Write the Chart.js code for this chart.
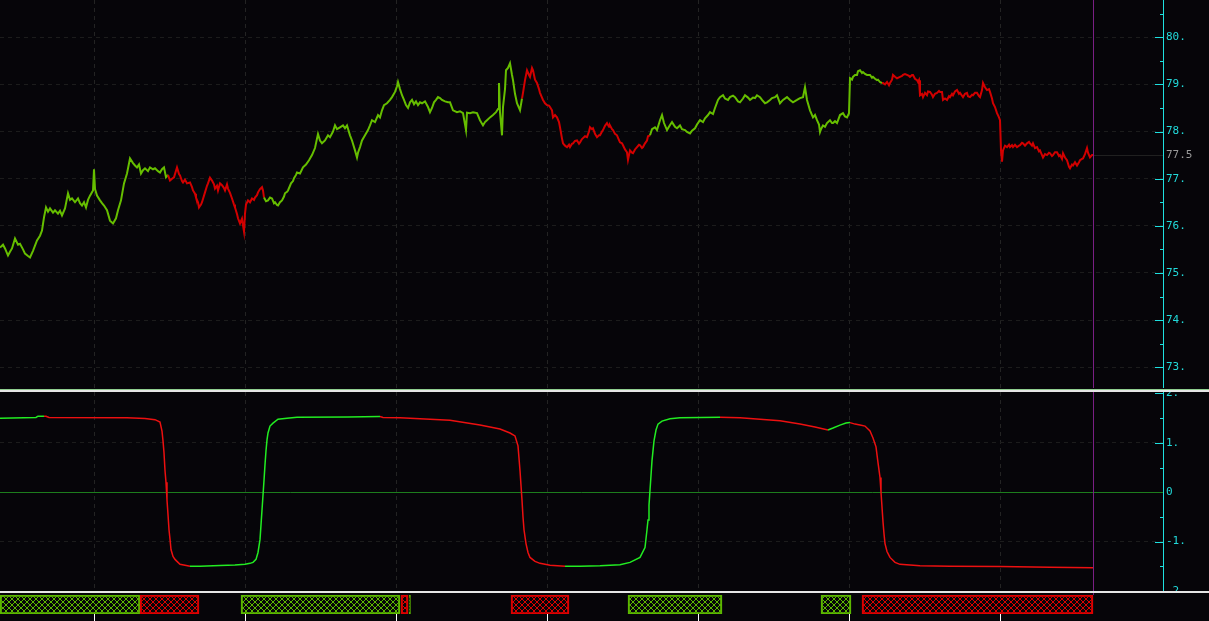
<!DOCTYPE html>
<html>
<head>
<meta charset="utf-8">
<style>
  html, body { margin: 0; padding: 0; background: #060509; overflow: hidden; }
  #wrap { position: relative; width: 1209px; height: 621px; }
  canvas { position: absolute; left: 0; }
  .sep { position: absolute; left: 0; width: 1209px; }
</style>
</head>
<body>
<div id="wrap">
  <canvas id="price" width="1209" height="388" style="top:0"></canvas>
  <canvas id="osc" width="1209" height="199" style="top:392px"></canvas>
  <canvas id="band" width="1209" height="28" style="top:593px"></canvas>
  <div class="sep" style="top:389px;height:1px;background:#8fce8f"></div>
  <div class="sep" style="top:390px;height:2px;background:#e6e6e6"></div>
  <div class="sep" style="top:591px;height:2px;background:#e6e6e6"></div>
</div>

<script src="https://cdn.jsdelivr.net/npm/chart.js"></script>

<script>
  // time axis is in bars; 151 bars per session
  const timeMax = 1163;
  const cursorTime = 1093;
  const sessionLines = [94.5, 245.5, 396.5, 547.5, 698.5, 849.5, 1000.5];

  const priceTicks = [73, 73.5, 74, 74.5, 75, 75.5, 76, 76.5, 77, 77.5, 78, 78.5, 79, 79.5, 80, 80.5];
  const oscTicks = [-2, -1.5, -1, -0.5, 0, 0.5, 1, 1.5, 2];
  const lastPrice = 77.5;

  // [bar, price]
  const pricePath = [
    [0,75.54],[3,75.60],[5,75.52],[8,75.37],[10,75.45],[12,75.52],[15,75.73],[18,75.60],[20,75.62],[23,75.50],
    [25,75.41],[28,75.36],[30,75.33],[33,75.47],[35,75.58],[37,75.69],[40,75.79],[42,75.90],[44,76.18],[46,76.39],
    [48,76.30],[50,76.37],[53,76.28],[55,76.33],[58,76.26],[60,76.32],[62,76.22],[65,76.37],[68,76.69],[70,76.55],
    [72,76.58],[75,76.50],[78,76.58],[80,76.48],[82,76.43],[84,76.50],[86,76.39],[88,76.55],[90,76.64],[93,76.75],
    [94,77.20],[95,76.78],[97,76.64],[100,76.54],[102,76.48],[104,76.43],[107,76.33],[110,76.11],[113,76.05],[116,76.16],
    [118,76.33],[121,76.54],[124,76.90],[127,77.11],[130,77.43],[133,77.33],[135,77.28],[137,77.24],[139,77.30],[141,77.11],
    [143,77.18],[145,77.22],[148,77.16],[150,77.24],[153,77.20],[155,77.22],[158,77.16],[160,77.13],[162,77.20],[164,77.24],
    [166,77.03],[168,77.08],[170,76.96],[172,77.00],[174,77.03],[177,77.24],[179,77.10],[180,77.07],[182,76.95],[183,76.92],
    [185,76.98],[187,76.90],[190,76.92],[192,76.82],[193,76.75],[195,76.68],[196,76.60],[198,76.50],[199,76.39],[201,76.45],
    [202,76.50],[205,76.71],[207,76.85],[208,76.90],[210,77.02],[212,76.96],[214,76.88],[215,76.79],[217,76.85],[218,76.75],
    [220,76.90],[222,76.86],[224,76.80],[225,76.75],[227,76.88],[228,76.79],[230,76.70],[232,76.58],[234,76.45],[235,76.39],
    [237,76.25],[238,76.16],[240,76.05],[242,76.15],[243,76.01],[244,75.88],[245,76.26],[246,76.45],[248,76.54],[250,76.50],
    [252,76.58],[254,76.55],[255,76.60],[257,76.65],[258,76.71],[260,76.78],[262,76.82],[263,76.75],[264,76.60],[266,76.52],
    [268,76.54],[270,76.60],[272,76.58],[274,76.48],[275,76.50],[277,76.44],[278,76.43],[280,76.50],[282,76.54],[284,76.62],
    [285,76.69],[287,76.72],[288,76.75],[290,76.85],[291,76.90],[293,76.95],[294,77.01],[296,77.08],[297,77.13],[300,77.11],
    [303,77.24],[306,77.30],[309,77.39],[312,77.50],[315,77.65],[318,77.95],[320,77.81],[322,77.75],[325,77.81],[328,77.92],
    [330,77.88],[333,78.00],[335,78.13],[337,78.05],[340,78.09],[343,78.13],[345,78.07],[347,78.13],[350,77.92],[352,77.81],
    [355,77.60],[357,77.45],[358,77.55],[360,77.67],[362,77.81],[365,77.92],[368,78.03],[370,78.13],[372,78.24],[375,78.20],
    [378,78.35],[380,78.30],[382,78.45],[384,78.56],[387,78.60],[390,78.67],[392,78.73],[395,78.84],[397,78.96],[398,79.05],
    [400,78.90],[402,78.77],[404,78.67],[406,78.56],[408,78.50],[410,78.62],[412,78.67],[414,78.58],[416,78.64],[418,78.56],
    [420,78.62],[422,78.60],[425,78.64],[428,78.52],[430,78.41],[432,78.50],[434,78.62],[436,78.67],[438,78.73],[440,78.71],
    [442,78.67],[445,78.64],[448,78.62],[450,78.62],[453,78.45],[457,78.41],[460,78.43],[463,78.39],[466,78.03],[467,78.40],
    [470,78.39],[473,78.41],[477,78.39],[480,78.24],[483,78.13],[485,78.20],[487,78.24],[490,78.30],[493,78.35],[496,78.41],
    [498,78.48],[499,79.03],[500,78.41],[502,77.92],[503,78.52],[505,78.90],[506,79.30],[508,79.35],[510,79.45],[512,79.20],
    [513,79.09],[515,78.80],[517,78.60],[519,78.50],[520,78.45],[522,78.70],[523,78.82],[525,79.09],[527,79.30],[529,79.20],
    [530,79.16],[532,79.35],[533,79.30],[535,79.10],[537,79.03],[539,78.90],[540,78.82],[542,78.72],[543,78.67],[545,78.60],
    [547,78.56],[549,78.55],[550,78.52],[552,78.45],[553,78.30],[555,78.35],[557,78.30],[559,78.20],[560,78.09],[562,77.85],
    [563,77.75],[565,77.70],[567,77.67],[569,77.72],[570,77.67],[572,77.74],[573,77.75],[575,77.80],[577,77.81],[579,77.74],
    [580,77.77],[582,77.84],[583,77.86],[585,77.90],[587,77.88],[589,78.00],[590,78.09],[592,78.05],[593,78.07],[595,77.95],
    [597,77.88],[599,77.92],[600,77.92],[602,78.00],[603,78.03],[605,78.12],[607,78.18],[609,78.10],[610,78.13],[612,78.05],
    [613,78.03],[615,77.95],[617,77.92],[619,77.82],[620,77.77],[622,77.75],[623,77.71],[625,77.62],[627,77.56],[628,77.40],
    [630,77.60],[632,77.55],[633,77.54],[635,77.62],[637,77.67],[639,77.72],[640,77.71],[642,77.65],[643,77.67],[645,77.75],
    [647,77.81],[648,77.90],[650,77.92],[652,78.05],[655,78.09],[657,78.03],[660,78.24],[662,78.35],[664,78.18],[667,78.03],
    [670,78.14],[672,78.20],[675,78.10],[677,78.07],[680,78.13],[682,78.05],[685,78.03],[687,77.99],[690,77.96],[692,78.02],
    [695,78.07],[697,78.15],[700,78.24],[703,78.20],[705,78.28],[708,78.35],[710,78.41],[713,78.37],[715,78.50],[718,78.67],
    [720,78.73],[723,78.77],[725,78.70],[728,78.67],[730,78.73],[733,78.76],[735,78.73],[738,78.64],[740,78.62],[743,78.70],
    [745,78.77],[748,78.72],[750,78.67],[753,78.72],[755,78.71],[757,78.77],[760,78.73],[762,78.67],[765,78.60],[767,78.62],
    [770,78.67],[772,78.71],[775,78.73],[777,78.77],[780,78.60],[783,78.67],[787,78.73],[790,78.67],[793,78.62],[797,78.67],
    [800,78.71],[803,78.73],[805,78.94],[807,78.67],[810,78.45],[813,78.30],[815,78.35],[817,78.24],[819,78.15],[820,77.99],
    [821,78.05],[823,78.13],[825,78.10],[827,78.18],[830,78.24],[832,78.18],[833,78.18],[835,78.22],[837,78.18],[840,78.35],
    [843,78.39],[845,78.32],[847,78.30],[849,78.39],[850,79.13],[852,79.10],[853,79.16],[855,79.20],[857,79.20],[858,79.28],
    [860,79.30],[862,79.24],[863,79.26],[865,79.22],[867,79.20],[870,79.20],[872,79.14],[873,79.16],[875,79.12],[877,79.09],
    [878,79.10],[880,79.05],[882,79.03],[883,79.03],[885,79.00],[887,79.05],[889,78.98],[890,79.03],[892,79.10],[893,79.20],
    [895,79.16],[897,79.13],[899,79.15],[900,79.16],[902,79.18],[903,79.20],[905,79.22],[907,79.20],[909,79.18],[910,79.16],
    [912,79.20],[913,79.20],[915,79.12],[917,79.09],[918,79.05],[919,79.09],[920,78.77],[922,78.80],[923,78.73],[925,78.82],
    [927,78.77],[928,78.85],[930,78.84],[932,78.78],[933,78.73],[935,78.80],[937,78.82],[939,78.86],[940,78.84],[942,78.84],
    [943,78.67],[945,78.70],[947,78.67],[949,78.75],[950,78.73],[952,78.80],[953,78.77],[955,78.85],[957,78.88],[959,78.80],
    [960,78.82],[962,78.76],[963,78.73],[965,78.80],[967,78.82],[968,78.75],[970,78.73],[972,78.78],[973,78.77],[975,78.82],
    [977,78.82],[979,78.75],[980,78.73],[982,78.88],[983,79.03],[985,78.94],[987,78.88],[989,78.90],[990,78.84],[992,78.70],
    [993,78.60],[995,78.52],[997,78.39],[999,78.30],[1000,78.24],[1001,77.60],[1002,77.36],[1003,77.60],[1005,77.70],[1007,77.67],
    [1009,77.72],[1010,77.67],[1012,77.71],[1013,77.67],[1015,77.72],[1017,77.67],[1019,77.70],[1020,77.71],[1022,77.76],[1023,77.75],
    [1025,77.70],[1027,77.75],[1029,77.78],[1030,77.75],[1032,77.70],[1033,77.75],[1035,77.65],[1037,77.67],[1039,77.58],[1040,77.60],
    [1042,77.50],[1043,77.45],[1045,77.52],[1047,77.50],[1049,77.55],[1050,77.54],[1052,77.48],[1053,77.50],[1055,77.56],[1057,77.56],
    [1059,77.48],[1060,77.50],[1062,77.42],[1063,77.54],[1065,77.45],[1067,77.39],[1069,77.25],[1070,77.22],[1072,77.30],[1073,77.28],
    [1075,77.35],[1077,77.28],[1079,77.35],[1080,77.39],[1082,77.42],[1083,77.43],[1085,77.52],[1087,77.65],[1088,77.55],[1090,77.45],
    [1092,77.50],[1093,77.50]
  ];

  // [bar, oscillator]
  const oscPath = [
    [0,1.500],[36,1.514],[38,1.540],[44,1.541],[46,1.538],[49,1.514],[127,1.510],[145,1.495],[155,1.47],[160,1.42],
    [162,1.24],[163,1.04],[164,0.80],[165,0.44],[166,0.20],[167,-0.16],[168,-0.45],[169,-0.76],[170,-0.95],[171,-1.16],
    [173,-1.30],[175,-1.36],[178,-1.42],[180,-1.46],[185,-1.48],[190,-1.50],[200,-1.498],[220,-1.485],[235,-1.475],[245,-1.46],
    [250,-1.44],[253,-1.42],[256,-1.36],[258,-1.22],[260,-0.96],[261,-0.66],[262,-0.36],[263,-0.06],[264,0.24],[265,0.56],
    [266,0.84],[267,1.06],[268,1.20],[270,1.34],[273,1.40],[278,1.48],[287,1.50],[297,1.52],[348,1.525],[380,1.535],
    [383,1.515],[400,1.51],[430,1.48],[450,1.46],[480,1.36],[500,1.28],[510,1.20],[515,1.14],[518,0.94],[520,0.44],
    [521,0.14],[522,-0.16],[523,-0.50],[524,-0.76],[526,-1.04],[528,-1.22],[530,-1.32],[535,-1.40],[540,-1.44],[550,-1.48],
    [565,-1.50],[580,-1.497],[600,-1.49],[620,-1.47],[630,-1.42],[640,-1.32],[645,-1.12],[647,-0.76],[648,-0.56],[649,-0.26],
    [650,0.04],[651,0.34],[652,0.64],[654,1.04],[656,1.26],[658,1.38],[662,1.44],[670,1.49],[680,1.51],[700,1.515],
    [720,1.52],[740,1.51],[760,1.48],[780,1.45],[800,1.38],[815,1.32],[828,1.26],[833,1.30],[840,1.36],[846,1.40],
    [850,1.41],[855,1.38],[860,1.36],[865,1.34],[870,1.24],[873,1.10],[876,0.92],[878,0.60],[880,0.30],[881,0.00],
    [882,-0.30],[883,-0.60],[884,-0.84],[885,-1.04],[887,-1.20],[890,-1.32],[895,-1.42],[900,-1.46],[920,-1.49],[950,-1.50],
    [1000,-1.505],[1050,-1.52],[1093,-1.53]
  ];

  // [entry bar, exit bar, side]
  const trades = [
    [0, 140, 'long'], [140, 199, 'short'], [241, 400, 'long'], [401, 408, 'short'], [409, 410.5, 'long'],
    [511, 569, 'short'], [628, 722, 'long'], [821, 851, 'long'], [862, 1093, 'short']
  ];

  const PRICE_UP = '#66be00', PRICE_DN = '#d20000';
  const OSC_UP = '#22ec22', OSC_DN = '#ec1010';
  const BAND_UP = '#5cb800', BAND_DN = '#dd0000';
  const AXIS = '#1ee0e0', LABEL = '#22dada', GRID = '#232323', CURSOR = '#7a1f84';
  const NONE = 'rgba(0,0,0,0)';
  const FONT = { family: 'DejaVu Sans Mono', size: 11 };

  // regime changes where the oscillator changes sign
  const crossings = [];
  for (let i = 1; i < oscPath.length; i++) {
    if (Math.sign(oscPath[i][1]) !== Math.sign(oscPath[i - 1][1])) {
      crossings.push({ t: oscPath[i][0], up: oscPath[i][1] > 0 });
    }
  }
  function regimeUp(t) {
    let up = oscPath[0][1] > 0;
    for (const c of crossings) if (t >= c.t) up = c.up;
    return up;
  }

  function timeAxis() {
    return {
      type: 'linear', min: 0, max: timeMax,
      afterBuildTicks: s => { s.ticks = sessionLines.map(v => ({ value: v })); },
      afterFit: s => { s.paddingLeft = 0; s.paddingRight = 0; },
      grid: { color: GRID, drawTicks: false },
      border: { display: false, dash: [4, 4] },
      ticks: { display: false }
    };
  }

  function valueAxis(min, max, list, fmt) {
    return {
      position: 'right', min: min, max: max,
      afterBuildTicks: s => { s.ticks = list.map(v => ({ value: v })); },
      afterFit: s => { s.width = 46; s.paddingTop = 0; s.paddingBottom = 0; },
      grid: {
        color: c => (c.tick && c.tick.value % 1 === 0 && c.tick.value !== 0 && Math.abs(c.tick.value) !== 2) ? '#1c1c1c' : NONE,
        drawTicks: false
      },
      border: { display: true, color: AXIS, width: 1, dash: [4, 4] },
      ticks: { padding: 3, color: LABEL, font: FONT, autoSkip: false, callback: fmt }
    };
  }

  const paneDeco = {
    id: 'paneDeco',
    beforeDatasetsDraw(chart, args, opts) {
      const { ctx, chartArea, scales: { y } } = chart;
      if (opts.zeroLine) {
        const py = Math.round(y.getPixelForValue(0)) + 0.5;
        ctx.save();
        ctx.strokeStyle = '#1d7d1d';
        ctx.lineWidth = 1;
        ctx.beginPath();
        ctx.moveTo(chartArea.left, py);
        ctx.lineTo(chartArea.right, py);
        ctx.stroke();
        ctx.restore();
      }
    },
    afterDraw(chart, args, opts) {
      const { ctx, chartArea, scales: { x, y } } = chart;
      ctx.save();
      ctx.lineWidth = 1;
      ctx.strokeStyle = AXIS;
      y.ticks.forEach(t => {
        if (opts.zeroLine && t.value === 0) return;
        const py = Math.round(y.getPixelForValue(t.value)) + 0.5;
        const len = t.value % 1 === 0 ? 8 : 3;
        ctx.beginPath();
        ctx.moveTo(chartArea.right - len, py);
        ctx.lineTo(chartArea.right, py);
        ctx.stroke();
      });
      const cx = Math.round(x.getPixelForValue(cursorTime)) + 0.5;
      if (opts.lastPrice !== undefined) {
        const py = Math.round(y.getPixelForValue(opts.lastPrice)) + 0.5;
        ctx.strokeStyle = '#202020';
        ctx.beginPath();
        ctx.moveTo(cx, py);
        ctx.lineTo(chartArea.right, py);
        ctx.stroke();
        ctx.fillStyle = '#9a9a9a';
        ctx.font = '11px "DejaVu Sans Mono"';
        ctx.textBaseline = 'middle';
        ctx.fillText(String(opts.lastPrice), chartArea.right + 3, py);
      }
      ctx.strokeStyle = CURSOR;
      ctx.beginPath();
      ctx.moveTo(cx, 0);
      ctx.lineTo(cx, chart.height);
      ctx.stroke();
      ctx.restore();
    }
  };

  new Chart(document.getElementById('price'), {
    type: 'line',
    data: {
      datasets: [{
        data: pricePath.map(p => ({ x: p[0], y: p[1] })),
        borderWidth: 2,
        pointRadius: 0,
        tension: 0,
        segment: { borderColor: c => regimeUp(c.p0.parsed.x) ? PRICE_UP : PRICE_DN }
      }]
    },
    options: {
      responsive: false,
      animation: false,
      events: [],
      layout: { padding: 0 },
      scales: {
        x: timeAxis(),
        y: valueAxis(72.56, 80.79, priceTicks, v => v % 1 === 0 ? v + '.' : '')
      },
      plugins: { legend: { display: false }, tooltip: { enabled: false }, paneDeco: { lastPrice: lastPrice } }
    },
    plugins: [paneDeco]
  });

  new Chart(document.getElementById('osc'), {
    type: 'line',
    data: {
      datasets: [{
        data: oscPath.map(p => ({ x: p[0], y: p[1] })),
        borderWidth: 1.5,
        pointRadius: 0,
        tension: 0,
        segment: { borderColor: c => c.p1.parsed.y >= c.p0.parsed.y ? OSC_UP : OSC_DN }
      }]
    },
    options: {
      responsive: false,
      animation: false,
      events: [],
      layout: { padding: 0 },
      scales: {
        x: timeAxis(),
        y: valueAxis(-2.0, 2.03, oscTicks, v => v === 0 ? '0' : (v % 1 === 0 ? v + '.' : ''))
      },
      plugins: { legend: { display: false }, tooltip: { enabled: false }, paneDeco: { zeroLine: true } }
    },
    plugins: [paneDeco]
  });

  function hatch(color) {
    const c = document.createElement('canvas');
    c.width = 6; c.height = 6;
    const g = c.getContext('2d');
    g.fillStyle = color;
    for (let i = 0; i < 6; i++) {
      g.fillRect(i, i, 1, 1);
      g.fillRect(5 - i, i, 1, 1);
    }
    return g.createPattern(c, 'repeat');
  }
  const upFill = hatch(BAND_UP), dnFill = hatch(BAND_DN);

  const bandCursor = {
    id: 'bandCursor',
    beforeDatasetsDraw(chart) {
      const { ctx, scales: { x } } = chart;
      const cx = Math.round(x.getPixelForValue(cursorTime)) + 0.5;
      ctx.save();
      ctx.strokeStyle = CURSOR;
      ctx.beginPath();
      ctx.moveTo(cx, 0);
      ctx.lineTo(cx, chart.chartArea.top);
      ctx.stroke();
      ctx.restore();
    }
  };

  new Chart(document.getElementById('band'), {
    type: 'bar',
    data: {
      labels: ['pos'],
      datasets: [{
        data: trades.map(t => ({ x: [t[0], t[1]], y: 'pos' })),
        backgroundColor: trades.map(t => t[2] === 'long' ? upFill : dnFill),
        borderColor: trades.map(t => t[2] === 'long' ? BAND_UP : BAND_DN),
        borderWidth: 1.5,
        borderSkipped: false,
        barPercentage: 1,
        categoryPercentage: 1
      }]
    },
    options: {
      responsive: false,
      animation: false,
      events: [],
      indexAxis: 'y',
      layout: { padding: { top: 2, right: 46, left: 0, bottom: 0 } },
      scales: {
        x: {
          type: 'linear', min: 0, max: timeMax,
          afterBuildTicks: s => { s.ticks = sessionLines.map(v => ({ value: v })); },
          afterFit: s => { s.paddingLeft = 0; s.paddingRight = 0; },
          grid: { drawOnChartArea: false, drawTicks: true, tickLength: 7, tickColor: '#ffffff', tickWidth: 1 },
          border: { display: false },
          ticks: { display: false }
        },
        y: { type: 'category', display: false }
      },
      plugins: { legend: { display: false }, tooltip: { enabled: false } }
    },
    plugins: [bandCursor]
  });
</script>
</body>
</html>
